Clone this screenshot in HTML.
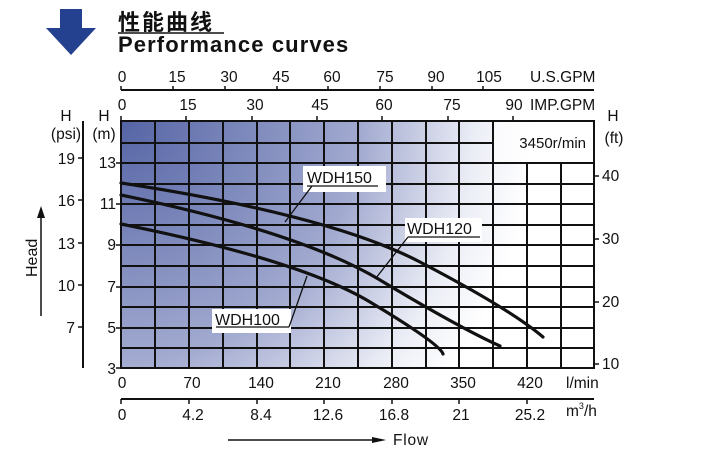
<!DOCTYPE html>
<html><head><meta charset="utf-8"><style>
html,body{margin:0;padding:0;background:#fff;}
svg{display:block;font-family:"Liberation Sans","Noto Sans CJK SC",sans-serif;}
</style></head><body>
<svg width="705" height="457" viewBox="0 0 705 457" xmlns="http://www.w3.org/2000/svg">
<defs>
<radialGradient id="bg" cx="121" cy="121" r="480" gradientUnits="userSpaceOnUse">
<stop offset="0" stop-color="#5564a5"/>
<stop offset="0.5" stop-color="#a2aad0"/>
<stop offset="0.74" stop-color="#eceef6"/>
<stop offset="0.86" stop-color="#ffffff"/>
</radialGradient>
</defs>
<polygon points="60,9 82,9 82,28 96,28 71,55 46,28 60,28" fill="#23418f"/>
<text x="118" y="30" font-size="22" font-weight="bold" fill="#111" letter-spacing="2">性能曲线</text>
<line x1="118" y1="33" x2="224" y2="33" stroke="#111" stroke-width="1.5"/>
<text x="118" y="52" font-size="22" font-weight="bold" fill="#111" letter-spacing="1.1">Performance curves</text>

<rect x="121" y="121" width="473" height="247" fill="url(#bg)"/>
<rect x="493" y="121" width="101" height="42" fill="#fff" opacity="0.6"/>
<g stroke="#111" stroke-width="2" fill="none">
<path d="M155 121V368M189 121V368M223 121V368M257 121V368M290 121V368M324 121V368M358 121V368M392 121V368M426 121V368M459 121V368M493 121V368M527 163V368M561 163V368"/>
<path d="M121 143H493M121 163H594M121 184H594M121 204H594M121 225H594M121 245H594M121 266H594M121 287H594M121 307H594M121 328H594M121 348H594"/>
<rect x="121" y="121" width="473" height="247"/>
</g>
<text x="586" y="148" font-size="15" text-anchor="end" fill="#111">3450r/min</text>

<g stroke="#111" stroke-width="3.2" fill="none" stroke-linecap="round">
<path d="M121 183 Q330 215 420 262 T543 337"/>
<path d="M121 195 Q300 232 380 280 T500 346"/>
<path d="M121 224 Q300 260 370 302 T443 354"/>
</g>
<g font-size="16" fill="#111">
<rect x="303" y="166" width="83" height="26" fill="#fff"/>
<text x="307" y="183">WDH150</text>
<line x1="307" y1="186" x2="378" y2="186" stroke="#111" stroke-width="1.3"/>
<line x1="312" y1="186" x2="285" y2="222" stroke="#111" stroke-width="1.3"/>
<rect x="405" y="218" width="77" height="24" fill="#fff"/>
<text x="407" y="234">WDH120</text>
<line x1="408" y1="237" x2="480" y2="237" stroke="#111" stroke-width="1.3"/>
<line x1="482" y1="225" x2="493" y2="225" stroke="#111" stroke-width="1.3"/>
<line x1="408" y1="237" x2="376" y2="278" stroke="#111" stroke-width="1.3"/>
<rect x="212" y="309" width="79" height="24" fill="#fff"/>
<text x="215" y="325">WDH100</text>
<line x1="216" y1="327" x2="289" y2="327" stroke="#111" stroke-width="1.3"/>
<line x1="289" y1="327" x2="307" y2="276" stroke="#111" stroke-width="1.3"/>
</g>

<g stroke="#111" stroke-width="1.5">
<line x1="121" y1="90" x2="594" y2="90" stroke-width="2"/>
<path d="M121 90V86M173 90V86M225 90V86M277 90V86M328 90V86M380 90V86M432 90V86M483 90V86"/>
<path d="M121 121V116M186 121V116M252 121V116M317 121V116M382 121V116M448 121V116M513 121V116"/>
</g>
<g font-size="15.5" fill="#111" text-anchor="middle">
<text x="122" y="82">0</text><text x="177" y="82">15</text><text x="229" y="82">30</text><text x="281" y="82">45</text><text x="332" y="82">60</text><text x="385" y="82">75</text><text x="436" y="82">90</text><text x="489" y="82">105</text>
<text x="122" y="110">0</text><text x="188" y="110">15</text><text x="255" y="110">30</text><text x="320" y="110">45</text><text x="384" y="110">60</text><text x="452" y="110">75</text><text x="514" y="110">90</text>
</g>
<g font-size="15.5" fill="#111">
<text x="530" y="82">U.S.GPM</text>
<text x="530" y="110">IMP.GPM</text>
</g>

<g stroke="#111" stroke-width="1.5">
<line x1="83" y1="121" x2="83" y2="368" stroke-width="2"/>
<path d="M83 158H78M83 200H78M83 243H78M83 285H78M83 327H78"/>
<path d="M121 163H116M121 204H116M121 245H116M121 287H116M121 328H116M121 368H116"/>
<path d="M594 176H599M594 239H599M594 302H599M594 364H599"/>
</g>
<g font-size="15.5" fill="#111" text-anchor="end">
<text x="75" y="164">19</text><text x="75" y="206">16</text><text x="75" y="249">13</text><text x="75" y="291">10</text><text x="75" y="333">7</text>
<text x="116" y="168">13</text><text x="116" y="209">11</text><text x="116" y="250">9</text><text x="116" y="292">7</text><text x="116" y="333">5</text><text x="116" y="374">3</text>
</g>
<g font-size="15.5" fill="#111" text-anchor="middle">
<text x="66" y="121">H</text><text x="66" y="139">(psi)</text>
<text x="104" y="121">H</text><text x="104" y="139">(m)</text>
<text x="613" y="121">H</text><text x="614" y="143">(ft)</text>
</g>
<g font-size="15.5" fill="#111">
<text x="602" y="181">40</text><text x="602" y="244">30</text><text x="602" y="307">20</text><text x="602" y="369">10</text>
</g>
<line x1="41" y1="210" x2="41" y2="316" stroke="#111" stroke-width="1.5"/>
<polygon points="41,206 37,218 45,218" fill="#111"/>
<text transform="translate(37 277) rotate(-90)" font-size="16" fill="#111">Head</text>

<g font-size="15.5" fill="#111" text-anchor="middle">
<text x="122" y="388">0</text><text x="192" y="388">70</text><text x="261" y="388">140</text><text x="328" y="388">210</text><text x="396" y="388">280</text><text x="463" y="388">350</text><text x="530" y="388">420</text>
<text x="122" y="420">0</text><text x="193" y="420">4.2</text><text x="261" y="420">8.4</text><text x="328" y="420">12.6</text><text x="394" y="420">16.8</text><text x="461" y="420">21</text><text x="530" y="420">25.2</text>
</g>
<g font-size="15.5" fill="#111">
<text x="566" y="388">l/min</text>
<text x="566" y="416">m<tspan font-size="9" dy="-7">3</tspan><tspan dy="7">/h</tspan></text>
<text x="393" y="445" letter-spacing="0.8">Flow</text>
</g>
<g stroke="#111" stroke-width="1.5">
<line x1="121" y1="399" x2="594" y2="399" stroke-width="2"/>
<path d="M121 399V404M189 399V404M257 399V404M324 399V404M392 399V404M459 399V404M527 399V404"/>
<line x1="228" y1="440" x2="375" y2="440"/>
</g>
<polygon points="386,440 372,437 372,443" fill="#111"/>
</svg>
</body></html>
